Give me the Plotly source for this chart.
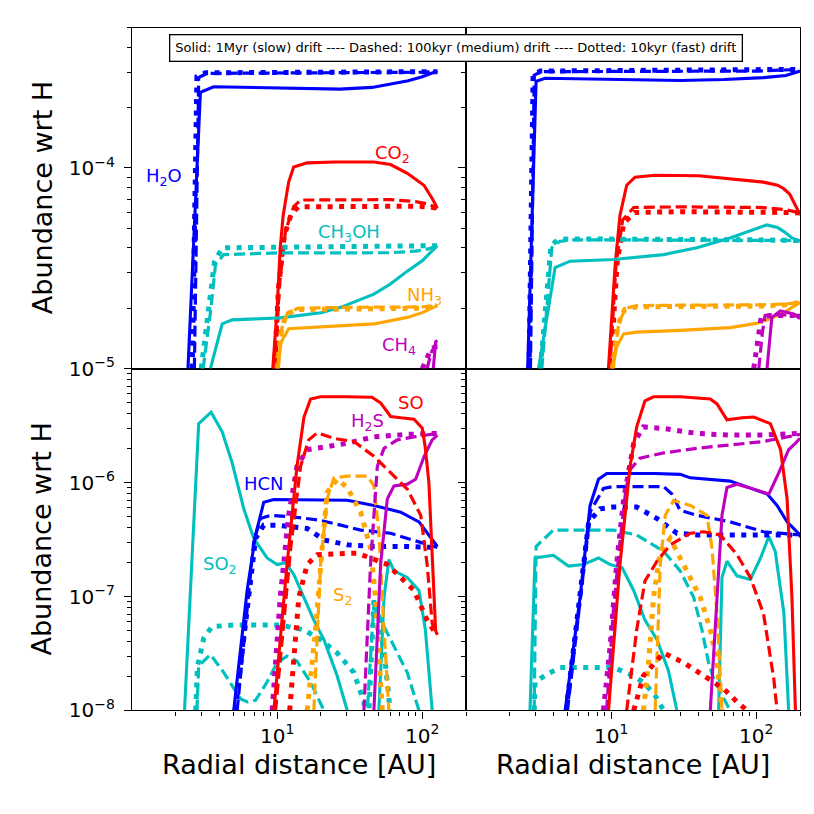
import math
import plotly.graph_objects as go

# ---------------- colours per species ----------------
C_BLUE = "#0000ff"
C_RED = "#ff0000"
C_CYAN = "#00bfbf"
C_ORANGE = "#ffa500"
C_MAG = "#bf00bf"

# ================= TOP-LEFT panel =================
TL_H2O_S_X = [2.43, 2.96, 3.65, 10, 27, 45, 60, 80, 100, 127]
TL_H2O_S_Y = [1e-5, 2.38e-4, 2.54e-4, 2.5e-4, 2.47e-4, 2.52e-4, 2.61e-4, 2.72e-4, 2.85e-4, 3.04e-4]
TL_H2O_D_X = [2.69, 2.88, 3.29, 10, 30, 60, 100, 127]
TL_H2O_D_Y = [1e-5, 2.82e-4, 2.96e-4, 2.97e-4, 2.97e-4, 2.98e-4, 3.0e-4, 3.02e-4]
TL_H2O_T_X = [2.6, 2.8, 3.2, 10, 30, 60, 100, 127]
TL_H2O_T_Y = [1e-5, 2.85e-4, 2.98e-4, 2.99e-4, 2.99e-4, 3.0e-4, 3.0e-4, 3.02e-4]

TL_CO2_S_X = [9.33, 9.6, 10.0, 10.5, 11.0, 12.0, 13.0, 16.1, 25, 46.4, 60.5, 78.8, 102.6, 117, 127]
TL_CO2_S_Y = [1e-5, 1.28e-5, 2e-5, 4e-5, 5.8e-5, 8.5e-5, 1.01e-4, 1.06e-4, 1.07e-4, 1.07e-4, 1.04e-4, 9.4e-5, 8.2e-5, 7.05e-5, 6.3e-5]
TL_CO2_D_X = [9.75, 10.3, 11.4, 13.0, 14.5, 30, 60, 90, 110, 127]
TL_CO2_D_Y = [1e-5, 2.5e-5, 4.83e-5, 6.42e-5, 6.92e-5, 6.95e-5, 6.95e-5, 6.8e-5, 6.6e-5, 6.3e-5]
TL_CO2_T_X = [9.6, 10.2, 11.2, 12.5, 14.0, 30, 60, 90, 110, 127]
TL_CO2_T_Y = [1e-5, 2.5e-5, 4.6e-5, 5.9e-5, 6.4e-5, 6.45e-5, 6.45e-5, 6.45e-5, 6.4e-5, 6.3e-5]

TL_CH3OH_S_X = [3.47, 4.18, 4.9, 10.5, 20, 27.4, 46.4, 60, 78.8, 100, 127]
TL_CH3OH_S_Y = [1e-5, 1.67e-5, 1.75e-5, 1.79e-5, 1.9e-5, 2.02e-5, 2.35e-5, 2.63e-5, 3.06e-5, 3.45e-5, 4.1e-5]
TL_CH3OH_D_X = [3.09, 3.5, 3.76, 4.29, 10, 30, 60, 90, 110, 127]
TL_CH3OH_D_Y = [1e-5, 2.0e-5, 3.3e-5, 3.7e-5, 3.77e-5, 3.77e-5, 3.78e-5, 3.85e-5, 3.95e-5, 4.1e-5]
TL_CH3OH_T_X = [3.0, 3.4, 3.7, 4.18, 10, 30, 60, 100, 127]
TL_CH3OH_T_Y = [1e-5, 2.1e-5, 3.4e-5, 4.0e-5, 4.02e-5, 4.03e-5, 4.05e-5, 4.05e-5, 4.1e-5]

TL_NH3_S_X = [10.0, 10.6, 12.0, 16.1, 30, 46.4, 78.8, 100, 127]
TL_NH3_S_Y = [1e-5, 1.35e-5, 1.58e-5, 1.6e-5, 1.63e-5, 1.67e-5, 1.8e-5, 1.9e-5, 2.06e-5]
TL_NH3_D_X = [10.2, 10.8, 11.8, 14, 30, 60, 100, 127]
TL_NH3_D_Y = [1e-5, 1.6e-5, 1.9e-5, 2.0e-5, 2.02e-5, 2.02e-5, 2.03e-5, 2.06e-5]
TL_NH3_T_X = [10.0, 10.6, 11.5, 13.5, 30, 60, 100, 127]
TL_NH3_T_Y = [1e-5, 1.5e-5, 1.85e-5, 1.97e-5, 1.98e-5, 1.99e-5, 2.0e-5, 2.06e-5]

TL_CH4_S_X = [119, 123.6, 127]
TL_CH4_S_Y = [1e-5, 1.36e-5, 1.38e-5]
TL_CH4_D_X = [108, 115, 122, 127]
TL_CH4_D_Y = [1e-5, 1.2e-5, 1.3e-5, 1.33e-5]
TL_CH4_T_X = [100, 107, 115, 127]
TL_CH4_T_Y = [1e-5, 1.1e-5, 1.25e-5, 1.3e-5]

# ================= TOP-RIGHT panel =================
TR_H2O_S_X = [2.66, 3.04, 3.51, 10, 30, 60, 112, 160, 200]
TR_H2O_S_Y = [1e-5, 2.7e-4, 2.8e-4, 2.77e-4, 2.73e-4, 2.76e-4, 2.82e-4, 2.89e-4, 3.04e-4]
TR_H2O_D_X = [2.78, 2.95, 3.3, 10, 30, 100, 200]
TR_H2O_D_Y = [1e-5, 2.9e-4, 3.02e-4, 3.03e-4, 3.03e-4, 3.04e-4, 3.1e-4]
TR_H2O_T_X = [2.72, 2.9, 3.25, 10, 30, 100, 200]
TR_H2O_T_Y = [1e-5, 2.92e-4, 3.04e-4, 3.05e-4, 3.05e-4, 3.05e-4, 3.1e-4]

TR_CO2_S_X = [9.58, 10.66, 11.5, 12.8, 14.6, 20, 40, 66, 90, 112, 140, 154, 170, 181, 190, 197]
TR_CO2_S_Y = [1e-5, 3.3e-5, 5.8e-5, 8.2e-5, 9.0e-5, 9.2e-5, 9.15e-5, 8.85e-5, 8.7e-5, 8.5e-5, 8.2e-5, 7.9e-5, 7.4e-5, 6.8e-5, 6.4e-5, 6.0e-5]
TR_CO2_D_X = [9.8, 10.8, 12.0, 14.3, 30, 66, 112, 160, 200]
TR_CO2_D_Y = [1e-5, 3.3e-5, 5.5e-5, 6.35e-5, 6.4e-5, 6.4e-5, 6.35e-5, 6.2e-5, 5.96e-5]
TR_CO2_T_X = [9.9, 11.0, 12.2, 14.5, 30, 66, 112, 160, 200]
TR_CO2_T_Y = [1e-5, 3.4e-5, 5.3e-5, 6.0e-5, 6.05e-5, 6.05e-5, 6.05e-5, 6.0e-5, 5.96e-5]

TR_CH3OH_S_X = [3.16, 4.11, 5.21, 10.4, 23, 38.9, 66, 95, 118, 140, 154, 175, 200]
TR_CH3OH_S_Y = [1e-5, 3.19e-5, 3.43e-5, 3.5e-5, 3.7e-5, 4.0e-5, 4.48e-5, 4.92e-5, 5.2e-5, 5.05e-5, 4.83e-5, 4.5e-5, 4.3e-5]
TR_CH3OH_D_X = [3.33, 3.9, 4.4, 5.2, 10, 30, 100, 200]
TR_CH3OH_D_Y = [1e-5, 4.0e-5, 4.3e-5, 4.38e-5, 4.38e-5, 4.38e-5, 4.36e-5, 4.35e-5]
TR_CH3OH_T_X = [3.25, 3.85, 4.3, 5.0, 10, 30, 100, 200]
TR_CH3OH_T_Y = [1e-5, 4.1e-5, 4.4e-5, 4.42e-5, 4.42e-5, 4.42e-5, 4.38e-5, 4.35e-5]

TR_NH3_S_X = [10.1, 11.0, 12.2, 15, 30, 66, 100, 125, 160, 200]
TR_NH3_S_Y = [1e-5, 1.3e-5, 1.49e-5, 1.52e-5, 1.55e-5, 1.6e-5, 1.68e-5, 1.77e-5, 1.93e-5, 2.14e-5]
TR_NH3_D_X = [10.3, 11.3, 12.6, 15, 30, 66, 112, 160, 200]
TR_NH3_D_Y = [1e-5, 1.7e-5, 2.0e-5, 2.06e-5, 2.07e-5, 2.07e-5, 2.08e-5, 2.1e-5, 2.14e-5]
TR_NH3_T_X = [10.2, 11.1, 12.4, 15, 30, 66, 112, 160, 200]
TR_NH3_T_Y = [1e-5, 1.65e-5, 1.97e-5, 2.03e-5, 2.04e-5, 2.04e-5, 2.05e-5, 2.08e-5, 2.14e-5]

TR_CH4_S_X = [118.5, 128, 146.5, 181, 200]
TR_CH4_S_Y = [1e-5, 1.8e-5, 1.94e-5, 1.87e-5, 1.77e-5]
TR_CH4_D_X = [104, 110, 115, 130, 160, 200]
TR_CH4_D_Y = [1e-5, 1.5e-5, 1.84e-5, 1.86e-5, 1.85e-5, 1.84e-5]
TR_CH4_T_X = [96, 102, 108, 125, 160, 200]
TR_CH4_T_Y = [1e-5, 1.4e-5, 1.8e-5, 1.84e-5, 1.84e-5, 1.84e-5]

# ================= BOTTOM-LEFT panel =================
BL_SO2_S_X = [2.30, 2.88, 3.51, 4.18, 4.9, 5.89, 6.9, 8.53, 10, 11.4, 13.0, 15.3, 17.9, 21, 25.9, 30.4, 40, 50.2, 54.5, 58.9, 63.8, 78.8, 94.9, 105, 117]
BL_SO2_S_Y = [1e-8, 3.29e-6, 4.15e-6, 2.79e-6, 1.49e-6, 5.89e-7, 3.24e-7, 2.18e-7, 1.91e-7, 1.98e-7, 1.57e-7, 9.86e-8, 6.2e-8, 4.18e-8, 2.02e-8, 1e-8, 3e-9, 1e-8, 9.9e-8, 2.11e-7, 1.68e-7, 1.47e-7, 1.13e-7, 5.1e-8, 1e-8]
BL_SO2_D_X = [2.8, 2.88, 3.47, 4.29, 5.58, 6.21, 7.1, 8.5, 10, 11.7, 13.7, 17, 21, 30, 41.8, 46.4, 54.5, 67.3, 78.8, 94.9]
BL_SO2_D_Y = [1e-8, 2.46e-8, 3.1e-8, 2.15e-8, 1.27e-8, 1.19e-8, 1.23e-8, 1.77e-8, 2.63e-8, 3.0e-8, 2.71e-8, 1.77e-8, 1e-8, 3e-9, 1e-8, 8.65e-8, 5.45e-8, 3.2e-8, 2.15e-8, 1e-8]
BL_SO2_T_X = [2.75, 2.82, 3.12, 3.56, 5, 8, 10.5, 15.3, 19.9, 25.9, 33.8, 39.6, 41, 42.9, 46.4, 50.2, 55, 60]
BL_SO2_T_Y = [1e-8, 2.4e-8, 4.31e-8, 5.45e-8, 5.62e-8, 5.62e-8, 5.62e-8, 5.1e-8, 4.18e-8, 3.2e-8, 2.15e-8, 1.19e-8, 8e-9, 1e-8, 9.25e-8, 6.6e-8, 3e-8, 1e-8]

BL_HCN_S_X = [5.02, 6.21, 7.1, 8.09, 9.49, 20, 30.4, 46.4, 71, 94.9, 127]
BL_HCN_S_Y = [1e-8, 1.13e-7, 3.47e-7, 6.73e-7, 7.1e-7, 7.1e-7, 7.0e-7, 6.3e-7, 5.5e-7, 4.52e-7, 2.75e-7]
BL_HCN_D_X = [5.3, 6.9, 7.67, 9.0, 13, 19.9, 27.4, 37.6, 60.5, 92.5, 127]
BL_HCN_D_Y = [1e-8, 3.04e-7, 4.83e-7, 5.16e-7, 4.99e-7, 4.66e-7, 4.23e-7, 3.83e-7, 3.59e-7, 3.04e-7, 2.69e-7]
BL_HCN_T_X = [5.15, 7.1, 8.09, 10, 16.1, 21, 30.4, 46.4, 80, 127]
BL_HCN_T_Y = [1e-8, 3.24e-7, 4.23e-7, 4.23e-7, 3.96e-7, 3.14e-7, 2.84e-7, 2.75e-7, 2.75e-7, 2.69e-7]

BL_SO_S_X = [9.49, 11.7, 13.7, 15.3, 17, 19.9, 30, 45, 51.6, 60.5, 71, 87.7, 100, 105, 111, 118, 123.6, 127]
BL_SO_S_Y = [1e-8, 1.91e-7, 1.39e-6, 3.76e-6, 5.41e-6, 5.66e-6, 5.66e-6, 5.6e-6, 5.0e-6, 3.8e-6, 3.7e-6, 3.6e-6, 3.0e-6, 2.0e-6, 1.0e-6, 2.0e-7, 5.0e-8, 4.6e-8]
BL_SO_D_X = [9.75, 12.4, 14.5, 16.5, 18.9, 24.6, 33.8, 46.4, 60.5, 78.8, 97.5, 108, 117, 127]
BL_SO_D_Y = [1e-8, 2.66e-7, 1.39e-6, 2.37e-6, 2.73e-6, 2.44e-6, 2.29e-6, 1.7e-6, 1.22e-6, 8.76e-7, 5.16e-7, 1.91e-7, 5.8e-8, 4.7e-8]
BL_SO_T_X = [12.2, 13, 14.1, 16.1, 18.9, 25, 35.6, 44, 57.4, 71, 87.7, 108, 124]
BL_SO_T_Y = [1e-8, 3.0e-8, 9.86e-8, 1.91e-7, 2.33e-7, 2.37e-7, 2.4e-7, 2.18e-7, 1.91e-7, 1.47e-7, 1.13e-7, 6.2e-8, 4.7e-8]

BL_H2S_S_X = [46.4, 51.6, 57.4, 63.8, 78.8, 90, 103, 117, 127]
BL_H2S_S_Y = [1e-8, 1.91e-7, 7.18e-7, 9.35e-7, 9.68e-7, 1.07e-6, 1.7e-6, 2.37e-6, 2.61e-6]
BL_H2S_D_X = [39.6, 44, 49, 54.5, 67.3, 87.7, 127]
BL_H2S_D_Y = [1e-8, 1.91e-7, 1.39e-6, 2.0e-6, 2.37e-6, 2.52e-6, 2.7e-6]
BL_H2S_T_X = [9.24, 10.5, 12, 13.7, 16.1, 22.1, 30.4, 46.4, 60.5, 80, 127]
BL_H2S_T_Y = [1e-8, 9.86e-8, 5.16e-7, 1.39e-6, 1.94e-6, 2.07e-6, 2.21e-6, 2.52e-6, 2.61e-6, 2.65e-6, 2.7e-6]

BL_S2_D_X = [17.9, 19.9, 22.1, 24.6, 30.4, 41.8, 46.4, 50.2, 54.5, 58.9]
BL_S2_D_Y = [1e-8, 1.91e-7, 7.18e-7, 1.1e-6, 1.14e-6, 1.14e-6, 9.35e-7, 3.7e-7, 5.1e-8, 1e-8]
BL_S2_T_X = [16.1, 18.4, 20.4, 22.1, 25.9, 30.4, 37.6, 44, 47.6, 51.6, 53]
BL_S2_T_Y = [1e-8, 5.1e-8, 2.66e-7, 8.2e-7, 1.07e-6, 9.05e-7, 5.5e-7, 2.66e-7, 9.86e-8, 1.35e-8, 1e-8]

# ================= BOTTOM-RIGHT panel =================
BR_SO_S_X = [9.59, 11.5, 13.5, 15, 17.1, 19.6, 30, 48.2, 53.6, 62.8, 80, 96, 125, 147, 163, 176, 186]
BR_SO_S_Y = [1e-8, 1.91e-7, 1.39e-6, 3.08e-6, 5.22e-6, 5.66e-6, 5.66e-6, 5.41e-6, 4.9e-6, 3.56e-6, 3.7e-6, 3.76e-6, 3.29e-6, 1.94e-6, 7.18e-7, 9.86e-8, 1e-8]
BR_SO_D_X = [12.8, 15, 17.1, 20.7, 25.5, 35.1, 43.4, 56.5, 73.6, 91, 112, 132, 139]
BR_SO_D_Y = [1e-8, 5.1e-8, 1.37e-7, 2.04e-7, 2.84e-7, 3.59e-7, 3.7e-7, 3.47e-7, 2.33e-7, 1.47e-7, 7.1e-8, 1.89e-8, 1e-8]
BR_SO_T_X = [14.3, 16.7, 23, 31.6, 43.4, 59.6, 73.6, 86.3]
BR_SO_T_Y = [1e-8, 2.02e-8, 3.2e-8, 2.63e-8, 2.02e-8, 1.55e-8, 1.19e-8, 1e-8]

BR_H2S_S_X = [48.2, 53.6, 58, 62.8, 73.6, 96, 122, 143, 167, 185, 200]
BR_H2S_S_Y = [1e-8, 9.86e-8, 5.16e-7, 9.05e-7, 9.68e-7, 8.76e-7, 7.93e-7, 1.22e-6, 1.94e-6, 2.2e-6, 2.45e-6]
BR_H2S_D_X = [9.3, 10.4, 11.5, 12.6, 13.5, 15.8, 23, 39, 66, 112, 200]
BR_H2S_D_Y = [1e-8, 8e-8, 3e-7, 8.5e-7, 1.3e-6, 1.64e-6, 1.82e-6, 2.0e-6, 2.14e-6, 2.29e-6, 2.65e-6]
BR_H2S_T_X = [8.85, 9.84, 10.9, 12.2, 14.3, 16.7, 23, 39, 66, 112, 196]
BR_H2S_T_Y = [1e-8, 3.66e-8, 1.91e-7, 7.18e-7, 2.21e-6, 3.08e-6, 2.98e-6, 2.7e-6, 2.61e-6, 2.61e-6, 2.7e-6]

BR_HCN_S_X = [4.82, 6.11, 7.16, 8.18, 9.33, 20, 29.9, 35.1, 66, 119, 139, 163, 200]
BR_HCN_S_Y = [1e-8, 9.86e-8, 6.3e-7, 1.07e-6, 1.2e-6, 1.2e-6, 1.18e-6, 1.1e-6, 1.03e-6, 7.93e-7, 6.3e-7, 4.52e-7, 3.47e-7]
BR_HCN_D_X = [5.0, 7.2, 8.85, 10.4, 23, 26.2, 29.9, 39, 66, 112, 200]
BR_HCN_D_Y = [1e-8, 5.6e-7, 8.87e-7, 9.23e-7, 9.23e-7, 7.93e-7, 5.7e-7, 5.16e-7, 4.52e-7, 3.7e-7, 3.47e-7]
BR_HCN_T_X = [4.9, 7.0, 8.4, 10.4, 15, 20.7, 28.4, 39, 200]
BR_HCN_T_Y = [1e-8, 4.5e-7, 5.89e-7, 6.1e-7, 6.1e-7, 4.83e-7, 3.59e-7, 3.47e-7, 3.47e-7]

BR_SO2_S_X = [2.76, 2.99, 4.0, 5.08, 6.44, 8.18, 9.84, 11.9, 14.3, 17.1, 20.7, 24.8, 28.4, 40, 55, 58, 62.8, 73.6, 91, 107, 122, 135, 155, 167]
BR_SO2_S_Y = [1e-8, 2.18e-7, 2.3e-7, 1.85e-7, 1.91e-7, 2.18e-7, 1.91e-7, 1.79e-7, 1.13e-7, 6.2e-8, 4.18e-8, 2.23e-8, 1e-8, 3e-9, 1e-8, 1.47e-7, 2.04e-7, 1.52e-7, 1.41e-7, 2.18e-7, 3.36e-7, 2.49e-7, 7.1e-8, 1e-8]
BR_SO2_D_X = [2.95, 3.04, 4.0, 10.4, 15, 23, 29.9, 37, 42.2, 46.9, 50.8, 56.5, 66]
BR_SO2_D_Y = [1e-8, 2.75e-7, 3.83e-7, 3.83e-7, 3.47e-7, 2.49e-7, 1.68e-7, 9.86e-8, 5.1e-8, 2.63e-8, 1.89e-8, 1.45e-8, 1e-8]
BR_SO2_T_X = [2.95, 2.99, 3.6, 4.45, 10.4, 13.5, 16.7, 20.1, 23]
BR_SO2_T_Y = [1e-8, 1.77e-8, 2.08e-8, 2.38e-8, 2.38e-8, 2.08e-8, 1.77e-8, 1.35e-8, 1e-8]

BR_S2_D_X = [20.1, 21.8, 23.6, 26.9, 35.1, 45.7, 49.5, 53.6, 58]
BR_S2_D_Y = [1e-8, 1.91e-7, 5.16e-7, 6.95e-7, 6.3e-7, 5.16e-7, 2.66e-7, 7.1e-8, 1e-8]
BR_S2_T_X = [16.7, 18.1, 19.6, 21.8, 25.5, 33.3, 41.1, 48.2, 53.6, 58]
BR_S2_T_Y = [1e-8, 2.63e-8, 9.86e-8, 2.49e-7, 3.24e-7, 1.68e-7, 9.86e-8, 5.1e-8, 2.63e-8, 1e-8]

# ---------------- labels ----------------
LEGEND_TEXT = "Solid: 1Myr (slow) drift ---- Dashed: 100kyr (medium) drift ---- Dotted: 10kyr (fast) drift"
TOP_LABELS = [("H<sub>2</sub>O", 1.66, 9.0e-5, C_BLUE), ("CO<sub>2</sub>", 62, 1.18e-4, C_RED),
              ("CH<sub>3</sub>OH", 31.2, 4.75e-5, C_CYAN), ("NH<sub>3</sub>", 103, 2.3e-5, C_ORANGE),
              ("CH<sub>4</sub>", 69, 1.29e-5, C_MAG)]
BOT_LABELS = [("SO", 83, 5.06e-6, C_RED), ("H<sub>2</sub>S", 41.8, 3.4e-6, C_MAG),
              ("HCN", 8.1, 9.9e-7, C_BLUE), ("SO<sub>2</sub>", 4.03, 1.91e-7, C_CYAN),
              ("S<sub>2</sub>", 28, 1.02e-7, C_ORANGE)]
X_TICKS = [10, 100]
X_TICKTEXT = ["10<sup>1</sup>", "10<sup>2</sup>"]
X_MINOR = [2, 3, 4, 5, 6, 7, 8, 9, 20, 30, 40, 50, 60, 70, 80, 90, 200]
YT_TICKS = [1e-5, 1e-4]
YT_TICKTEXT = ["10<sup>−5</sup>", "10<sup>−4</sup>"]
YT_MINOR = [2e-5, 3e-5, 4e-5, 5e-5, 6e-5, 7e-5, 8e-5, 9e-5, 2e-4, 3e-4, 4e-4, 5e-4]
YB_TICKS = [1e-8, 1e-7, 1e-6]
YB_TICKTEXT = ["10<sup>−8</sup>", "10<sup>−7</sup>", "10<sup>−6</sup>"]
YB_MINOR = [2e-8, 3e-8, 4e-8, 5e-8, 6e-8, 7e-8, 8e-8, 9e-8, 2e-7, 3e-7, 4e-7, 5e-7, 6e-7, 7e-7, 8e-7, 9e-7,
            2e-6, 3e-6, 4e-6, 5e-6, 6e-6, 7e-6, 8e-6, 9e-6]

STYLE = {
    "S": dict(width=3.1, dash="solid"),
    "D": dict(width=3.2, dash="11px,5px"),
    "T": dict(width=5.0, dash="5px,6.5px"),
}

fig = go.Figure()


def add(xs, ys, color, st, xa, ya):
    fig.add_trace(go.Scatter(x=xs, y=ys, mode="lines", xaxis=xa, yaxis=ya,
                             line=dict(color=color, width=STYLE[st]["width"], dash=STYLE[st]["dash"]),
                             showlegend=False, hoverinfo="skip"))


# top-left (x3, y3)
for st, xs, ys in [("S", TL_H2O_S_X, TL_H2O_S_Y), ("D", TL_H2O_D_X, TL_H2O_D_Y), ("T", TL_H2O_T_X, TL_H2O_T_Y)]:
    add(xs, ys, C_BLUE, st, "x3", "y3")
for st, xs, ys in [("S", TL_CO2_S_X, TL_CO2_S_Y), ("D", TL_CO2_D_X, TL_CO2_D_Y), ("T", TL_CO2_T_X, TL_CO2_T_Y)]:
    add(xs, ys, C_RED, st, "x3", "y3")
for st, xs, ys in [("S", TL_CH3OH_S_X, TL_CH3OH_S_Y), ("D", TL_CH3OH_D_X, TL_CH3OH_D_Y), ("T", TL_CH3OH_T_X, TL_CH3OH_T_Y)]:
    add(xs, ys, C_CYAN, st, "x3", "y3")
for st, xs, ys in [("S", TL_NH3_S_X, TL_NH3_S_Y), ("D", TL_NH3_D_X, TL_NH3_D_Y), ("T", TL_NH3_T_X, TL_NH3_T_Y)]:
    add(xs, ys, C_ORANGE, st, "x3", "y3")
for st, xs, ys in [("S", TL_CH4_S_X, TL_CH4_S_Y), ("D", TL_CH4_D_X, TL_CH4_D_Y), ("T", TL_CH4_T_X, TL_CH4_T_Y)]:
    add(xs, ys, C_MAG, st, "x3", "y3")

# top-right (x4, y4)
for st, xs, ys in [("S", TR_H2O_S_X, TR_H2O_S_Y), ("D", TR_H2O_D_X, TR_H2O_D_Y), ("T", TR_H2O_T_X, TR_H2O_T_Y)]:
    add(xs, ys, C_BLUE, st, "x4", "y4")
for st, xs, ys in [("S", TR_CO2_S_X, TR_CO2_S_Y), ("D", TR_CO2_D_X, TR_CO2_D_Y), ("T", TR_CO2_T_X, TR_CO2_T_Y)]:
    add(xs, ys, C_RED, st, "x4", "y4")
for st, xs, ys in [("S", TR_CH3OH_S_X, TR_CH3OH_S_Y), ("D", TR_CH3OH_D_X, TR_CH3OH_D_Y), ("T", TR_CH3OH_T_X, TR_CH3OH_T_Y)]:
    add(xs, ys, C_CYAN, st, "x4", "y4")
for st, xs, ys in [("S", TR_NH3_S_X, TR_NH3_S_Y), ("D", TR_NH3_D_X, TR_NH3_D_Y), ("T", TR_NH3_T_X, TR_NH3_T_Y)]:
    add(xs, ys, C_ORANGE, st, "x4", "y4")
for st, xs, ys in [("S", TR_CH4_S_X, TR_CH4_S_Y), ("D", TR_CH4_D_X, TR_CH4_D_Y), ("T", TR_CH4_T_X, TR_CH4_T_Y)]:
    add(xs, ys, C_MAG, st, "x4", "y4")

# bottom-left (x, y)
for st, xs, ys in [("S", BL_SO2_S_X, BL_SO2_S_Y), ("D", BL_SO2_D_X, BL_SO2_D_Y), ("T", BL_SO2_T_X, BL_SO2_T_Y)]:
    add(xs, ys, C_CYAN, st, "x", "y")
for st, xs, ys in [("S", BL_HCN_S_X, BL_HCN_S_Y), ("D", BL_HCN_D_X, BL_HCN_D_Y), ("T", BL_HCN_T_X, BL_HCN_T_Y)]:
    add(xs, ys, C_BLUE, st, "x", "y")
for st, xs, ys in [("D", BL_S2_D_X, BL_S2_D_Y), ("T", BL_S2_T_X, BL_S2_T_Y)]:
    add(xs, ys, C_ORANGE, st, "x", "y")
for st, xs, ys in [("S", BL_H2S_S_X, BL_H2S_S_Y), ("D", BL_H2S_D_X, BL_H2S_D_Y), ("T", BL_H2S_T_X, BL_H2S_T_Y)]:
    add(xs, ys, C_MAG, st, "x", "y")
for st, xs, ys in [("S", BL_SO_S_X, BL_SO_S_Y), ("D", BL_SO_D_X, BL_SO_D_Y), ("T", BL_SO_T_X, BL_SO_T_Y)]:
    add(xs, ys, C_RED, st, "x", "y")

# bottom-right (x2, y2)
for st, xs, ys in [("S", BR_SO2_S_X, BR_SO2_S_Y), ("D", BR_SO2_D_X, BR_SO2_D_Y), ("T", BR_SO2_T_X, BR_SO2_T_Y)]:
    add(xs, ys, C_CYAN, st, "x2", "y2")
for st, xs, ys in [("S", BR_HCN_S_X, BR_HCN_S_Y), ("D", BR_HCN_D_X, BR_HCN_D_Y), ("T", BR_HCN_T_X, BR_HCN_T_Y)]:
    add(xs, ys, C_BLUE, st, "x2", "y2")
for st, xs, ys in [("D", BR_S2_D_X, BR_S2_D_Y), ("T", BR_S2_T_X, BR_S2_T_Y)]:
    add(xs, ys, C_ORANGE, st, "x2", "y2")
for st, xs, ys in [("S", BR_H2S_S_X, BR_H2S_S_Y), ("D", BR_H2S_D_X, BR_H2S_D_Y), ("T", BR_H2S_T_X, BR_H2S_T_Y)]:
    add(xs, ys, C_MAG, st, "x2", "y2")
for st, xs, ys in [("S", BR_SO_S_X, BR_SO_S_Y), ("D", BR_SO_D_X, BR_SO_D_Y), ("T", BR_SO_T_X, BR_SO_T_Y)]:
    add(xs, ys, C_RED, st, "x2", "y2")

W = H = 814.0
XL = [124 / W, 458 / W]
XR = [458 / W, 792 / W]
YT = [1 - 366 / H, 1 - 20 / H]
YB = [1 - 713 / H, 1 - 366 / H]
FONT = "DejaVu Sans"
XRANGE = [0, math.log10(200)]

common = dict(type="log", showline=True, linecolor="black", linewidth=1.3, mirror=True,
              showgrid=False, zeroline=False, tickcolor="black", tickwidth=1.3, ticklen=7,
              tickfont=dict(family=FONT, size=20, color="black"))


def xax(domain, anchor, bottom):
    d = dict(common, domain=domain, anchor=anchor, range=XRANGE)
    if bottom:
        d.update(ticks="outside", tickmode="array", tickvals=X_TICKS, ticktext=X_TICKTEXT,
                 minor=dict(tickmode="array", tickvals=X_MINOR, ticks="outside", ticklen=4,
                            tickwidth=1.1, tickcolor="black"))
    else:
        d.update(ticks="", showticklabels=False)
    return d


def yax(domain, anchor, top, labels):
    d = dict(common, domain=domain, anchor=anchor, ticks="outside", tickmode="array",
             ticklabelstandoff=5)
    if top:
        d.update(range=[-5, math.log10(5e-4)], tickvals=YT_TICKS, ticktext=YT_TICKTEXT,
                 minor=dict(tickmode="array", tickvals=YT_MINOR, ticks="outside", ticklen=4,
                            tickwidth=1.1, tickcolor="black"))
    else:
        d.update(range=[-8, -5], tickvals=YB_TICKS, ticktext=YB_TICKTEXT,
                 minor=dict(tickmode="array", tickvals=YB_MINOR, ticks="outside", ticklen=4,
                            tickwidth=1.1, tickcolor="black"))
    d["showticklabels"] = labels
    return d


annotations = []
for txt, xv, yv, col in TOP_LABELS:
    annotations.append(dict(text=txt, x=math.log10(xv), y=math.log10(yv), xref="x3", yref="y3",
                            xanchor="center", yanchor="middle",
                            showarrow=False, font=dict(family=FONT, size=18, color=col)))
for txt, xv, yv, col in BOT_LABELS:
    annotations.append(dict(text=txt, x=math.log10(xv), y=math.log10(yv), xref="x", yref="y",
                            xanchor="center", yanchor="middle",
                            showarrow=False, font=dict(family=FONT, size=18, color=col)))
annotations.append(dict(text=LEGEND_TEXT, x=448.5 / W, y=1 - 40.8 / H, xref="paper", yref="paper",
                        xanchor="center", yanchor="middle",
                        showarrow=False, font=dict(family=FONT, size=13, color="black"),
                        bordercolor="black", borderwidth=1.3, borderpad=5, bgcolor="white"))
for yc in [193, 539.5]:
    annotations.append(dict(text="Abundance wrt H", x=34 / W, y=1 - yc / H, xref="paper", yref="paper",
                            xanchor="center", yanchor="middle",
                            showarrow=False, textangle=-90,
                            font=dict(family=FONT, size=27, color="black")))
for xc in [291, 625]:
    annotations.append(dict(text="Radial distance [AU]", x=xc / W, y=1 - 768 / H, xref="paper",
                            yref="paper", xanchor="center", yanchor="middle", showarrow=False,
                            font=dict(family=FONT, size=27, color="black")))

fig.update_layout(
    width=814, height=814, autosize=False,
    margin=dict(l=0, r=0, t=0, b=0),
    paper_bgcolor="white", plot_bgcolor="white",
    showlegend=False,
    xaxis=xax(XL, "y", True),
    xaxis2=xax(XR, "y2", True),
    xaxis3=xax(XL, "y3", False),
    xaxis4=xax(XR, "y4", False),
    yaxis=yax(YB, "x", False, True),
    yaxis2=yax(YB, "x2", False, False),
    yaxis3=yax(YT, "x3", True, True),
    yaxis4=yax(YT, "x4", True, False),
    annotations=annotations,
)

fig.write_html("out.html")
